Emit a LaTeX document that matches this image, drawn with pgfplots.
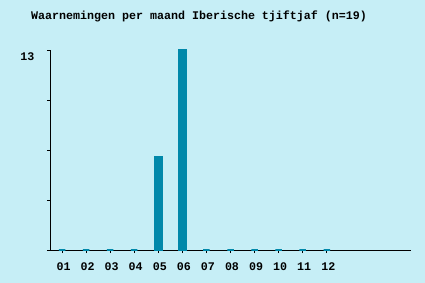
\documentclass[border=0pt]{standalone}
\usepackage{pgfplots}
\pgfplotsset{compat=1.18}
\usepackage{fontspec}
\setmainfont{Liberation Mono}
\definecolor{bgc}{RGB}{198,238,246}
\definecolor{barc}{RGB}{0,136,170}
\begin{document}
\begin{tikzpicture}
\path[use as bounding box, fill=bgc] (0,0) rectangle (425bp,283bp);
\node[anchor=west, font=\fontsize{11.7}{13}\selectfont\bfseries, inner sep=0pt] at (31bp,266.5bp) {Waarnemingen per maand Iberische tjiftjaf (n=19)};
\begin{axis}[
  at={(50bp,33bp)}, anchor=south west,
  scale only axis, width=361bp, height=200bp,
  xmin=0.5, xmax=15.5, ymin=0, ymax=13,
  axis lines=left, axis line style={-, line width=1bp, black},
  clip=false,
  xtick={1,...,12},
  xticklabels={01,02,03,04,05,06,07,08,09,10,11,12},
  ytick={0,3.25,6.5,9.75,13},
  yticklabels={,,,,13},
  tick align=outside, major tick length=3bp,
  tick style={line width=0.8bp, black},
  ticklabel style={font=\fontsize{11.7}{13}\selectfont\bfseries},
  /pgf/number format/assume math mode=true,
  xticklabel style={yshift=-6bp, xshift=1.5bp},
  yticklabel style={anchor=east, xshift=-9bp, yshift=-7bp},
]
\addplot[ybar, bar width=6.5bp, bar shift=0pt, fill=barc, draw=barc, line width=2.5bp] coordinates {
(1,0) (2,0) (3,0) (4,0) (5,6) (6,13) (7,0) (8,0) (9,0) (10,0) (11,0) (12,0)
};
\end{axis}
\end{tikzpicture}
\end{document}
